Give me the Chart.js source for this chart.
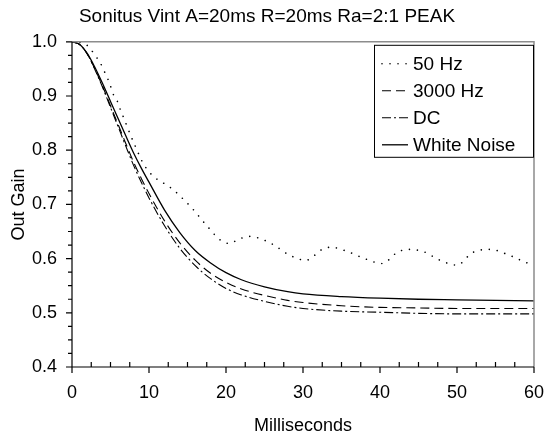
<!DOCTYPE html>
<html>
<head>
<meta charset="utf-8">
<script src="https://cdn.jsdelivr.net/npm/chart.js@4/dist/chart.umd.min.js"></script>
<style>
  html, body { margin: 0; padding: 0; background: #fff; }
  #wrap { width: 544px; height: 438px; }
</style>
</head>
<body>
<div id="wrap"><canvas id="chart"></canvas></div>
<script>
// --- data ---
const ms = [0, 1, 2, 3, 4, 5, 6, 7, 8, 9, 10, 12, 14, 16, 18, 20, 22, 25, 28, 30, 35, 40, 45, 50, 55, 60];
const gainWhite = [1.0, 0.995, 0.978, 0.952, 0.922, 0.890, 0.858, 0.826, 0.795, 0.767, 0.741, 0.690, 0.648, 0.615, 0.592, 0.574, 0.561, 0.548, 0.539, 0.535, 0.530, 0.527, 0.525, 0.524, 0.523, 0.522];
const gain3000 = [1.0, 0.995, 0.977, 0.949, 0.917, 0.882, 0.847, 0.812, 0.778, 0.748, 0.720, 0.670, 0.629, 0.597, 0.573, 0.556, 0.544, 0.532, 0.523, 0.519, 0.513, 0.510, 0.509, 0.508, 0.508, 0.508];
const gainDC = [1.0, 0.995, 0.977, 0.948, 0.915, 0.879, 0.843, 0.807, 0.772, 0.741, 0.712, 0.661, 0.619, 0.587, 0.563, 0.545, 0.533, 0.521, 0.512, 0.508, 0.503, 0.501, 0.499, 0.498, 0.498, 0.498];

const ms50 = [0, 1.6, 2.6, 3.3, 3.9, 4.4, 4.9, 5.3, 5.9, 6.3, 6.8, 7.2, 8.2, 9.2, 9.9, 10.8, 11.8, 12.8, 13.7, 14.5, 15.4, 16.2, 17, 17.8, 18.6, 19.5, 20.4, 21.7, 22.9, 24, 26.1, 28.3, 30.4, 32.5, 33.6, 35.8, 38, 40.3, 42.2, 43.5, 45.6, 47.8, 50, 52, 54.3, 56.5, 58.6, 60];
const gain50 = [1.0, 0.997, 0.983, 0.969, 0.955, 0.939, 0.923, 0.905, 0.890, 0.874, 0.857, 0.842, 0.808, 0.777, 0.762, 0.749, 0.740, 0.731, 0.720, 0.709, 0.696, 0.683, 0.669, 0.656, 0.643, 0.632, 0.628, 0.636, 0.641, 0.639, 0.626, 0.606, 0.597, 0.617, 0.621, 0.613, 0.600, 0.591, 0.611, 0.617, 0.613, 0.597, 0.588, 0.611, 0.617, 0.608, 0.595, 0.587];

const seriesNames = ['50 Hz', '3000 Hz', 'DC', 'White Noise'];
const xTickValues = [0, 10, 20, 30, 40, 50, 60];
const yTickValues = [0.4, 0.5, 0.6, 0.7, 0.8, 0.9, 1.0];

const FONT = 'Liberation Sans, Arial, Helvetica, sans-serif';

function pairs(xs, ys) {
    return xs.map((x, i) => ({ x: x, y: ys[i] }));
}

// line styles: dotted, dashed, dash-dot, solid
const styles = [
    { dash: [0.01, 8], width: 1.6, cap: 'round' },
    { dash: [9, 5], width: 1.1, cap: 'butt' },
    { dash: [9, 3, 2, 3], width: 1.1, cap: 'butt' },
    { dash: [], width: 1.3, cap: 'butt' }
];

const seriesData = [pairs(ms50, gain50), pairs(ms, gain3000), pairs(ms, gainDC), pairs(ms, gainWhite)];

// --- frame, tick marks and boxed legend ---
const framePlugin = {
    id: 'frame',
    afterDraw(chart) {
        const { ctx, chartArea: a, scales: { x, y } } = chart;
        ctx.save();

        // top + right border in grey
        ctx.strokeStyle = '#8c8c8c';
        ctx.lineWidth = 1.5;
        ctx.beginPath();
        ctx.moveTo(a.left, a.top);
        ctx.lineTo(a.right, a.top);
        ctx.lineTo(a.right, a.bottom);
        ctx.stroke();

        // axes in black
        ctx.strokeStyle = '#000';
        ctx.lineWidth = 1.2;
        ctx.beginPath();
        ctx.moveTo(a.left, a.top);
        ctx.lineTo(a.left, a.bottom);
        ctx.lineTo(a.right, a.bottom);

        // x ticks every 2.5 ms: majors outward, minors inward
        for (let i = 0; i <= 24; i++) {
            const px = x.getPixelForValue(i * 2.5);
            const major = i % 4 === 0;
            ctx.moveTo(px, a.bottom);
            ctx.lineTo(px, major ? a.bottom + 6 : a.bottom - 5);
        }
        // y ticks every 0.025, outward
        for (let i = 0; i <= 24; i++) {
            const py = y.getPixelForValue(0.4 + i * 0.025);
            const major = i % 4 === 0;
            ctx.moveTo(a.left, py);
            ctx.lineTo(a.left - (major ? 6 : 4), py);
        }
        ctx.stroke();

        // legend box
        const bx = a.right - 160, by = a.top + 3, bw = 160, bh = 113;
        ctx.fillStyle = '#fff';
        ctx.fillRect(bx, by, bw, bh);
        ctx.strokeStyle = '#000';
        ctx.lineWidth = 1;
        ctx.strokeRect(bx + 0.5, by + 0.5, bw - 1, bh - 1);

        ctx.font = '19px ' + FONT;
        ctx.fillStyle = '#000';
        ctx.textBaseline = 'middle';
        seriesNames.forEach((name, i) => {
            const ry = by + 19 + i * 27;
            const st = styles[i];
            ctx.setLineDash(st.dash);
            ctx.lineCap = st.cap;
            ctx.lineWidth = st.width;
            ctx.beginPath();
            ctx.moveTo(bx + 8, ry);
            ctx.lineTo(bx + 34, ry);
            ctx.stroke();
            ctx.setLineDash([]);
            ctx.fillText(name, bx + 39, ry + 1);
        });
        ctx.restore();
    }
};

const ctx = document.getElementById('chart').getContext('2d');
new Chart(ctx, {
    type: 'line',
    data: {
        datasets: seriesNames.map((name, i) => ({
            label: name,
            data: seriesData[i],
            borderColor: '#000',
            borderWidth: styles[i].width,
            borderDash: styles[i].dash,
            borderCapStyle: styles[i].cap,
            pointRadius: 0,
            fill: false,
            cubicInterpolationMode: 'monotone'
        }))
    },
    options: {
        responsive: true,
        maintainAspectRatio: false,
        animation: false,
        devicePixelRatio: 1,
        layout: { padding: { left: 0, right: 10, top: 0, bottom: 0 } },
        plugins: {
            legend: { display: false },
            tooltip: { enabled: false },
            title: {
                display: true,
                text: 'Sonitus Vint A=20ms R=20ms Ra=2:1 PEAK',
                color: '#000',
                font: { family: FONT, size: 19, weight: 'normal' },
                padding: { top: 5, bottom: 14 }
            }
        },
        scales: {
            x: {
                type: 'linear',
                min: 0,
                max: 60,
                afterBuildTicks: (scale) => { scale.ticks = xTickValues.map(v => ({ value: v })); },
                ticks: {
                    color: '#000',
                    font: { family: FONT, size: 18 },
                    padding: 15,
                    maxRotation: 0
                },
                grid: { display: false, drawTicks: false },
                border: { display: false },
                title: {
                    display: true,
                    text: 'Milliseconds',
                    color: '#000',
                    font: { family: FONT, size: 18 },
                    padding: { top: 0, bottom: 1 }
                },
                afterFit: (scale) => {
                    scale.height = 71;
                    scale.paddingLeft = 0;
                    scale.paddingRight = 0;
                }
            },
            y: {
                min: 0.4,
                max: 1.0,
                afterBuildTicks: (scale) => { scale.ticks = yTickValues.map(v => ({ value: v })); },
                ticks: {
                    color: '#000',
                    font: { family: FONT, size: 18 },
                    padding: 15,
                    callback: (v) => Number(v).toFixed(1)
                },
                grid: { display: false, drawTicks: false },
                border: { display: false },
                title: {
                    display: true,
                    text: 'Out Gain',
                    color: '#000',
                    font: { family: FONT, size: 18 },
                    padding: { top: 8, bottom: 0 }
                },
                afterFit: (scale) => {
                    scale.width = 72;
                    scale.paddingTop = 0;
                    scale.paddingBottom = 0;
                }
            }
        }
    },
    plugins: [framePlugin]
});
</script>
</body>
</html>
